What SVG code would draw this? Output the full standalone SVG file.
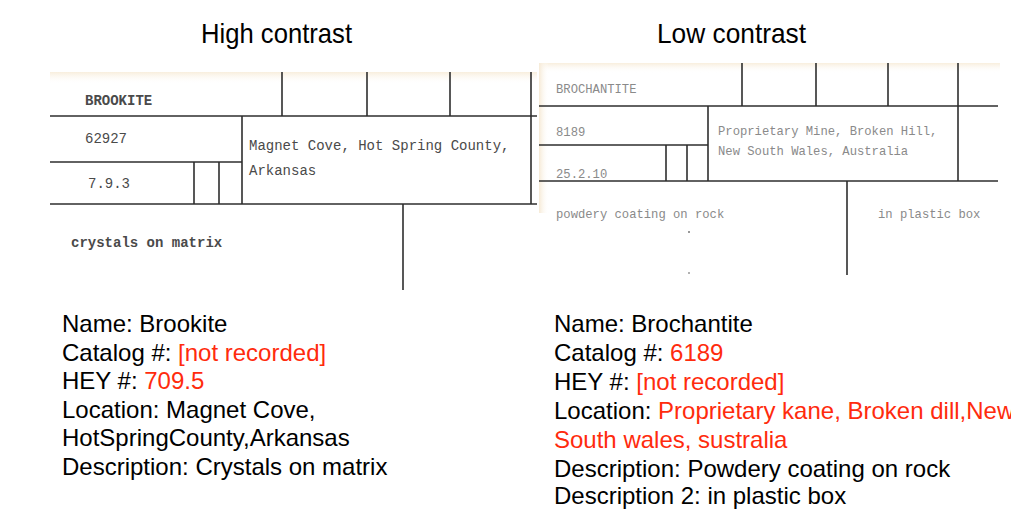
<svg xmlns="http://www.w3.org/2000/svg" width="1011" height="511" viewBox="0 0 1011 511">
  <style>
    .title { font-family: "Liberation Sans", Arial, sans-serif; font-size: 28px; fill: #000; }
    .rule { stroke: #2e2e2e; stroke-width: 1.6; fill: none; }
    .type1 { font-family: "Liberation Mono", "Courier New", monospace; font-size: 14px; fill: #4a4a4a; }
    .type2 { font-family: "Liberation Mono", "Courier New", monospace; font-size: 12.2px; fill: #8a8a8a; }
    .body { font-family: "Liberation Sans", Arial, sans-serif; font-size: 24px; fill: #000; }
    .red { fill: #ff2b0d; }
  </style>
  <defs>
    <linearGradient id="topTint" x1="0" y1="0" x2="0" y2="1">
      <stop offset="0" stop-color="#f8eedd"/>
      <stop offset="1" stop-color="#ffffff" stop-opacity="0"/>
    </linearGradient>
    <linearGradient id="leftTint" x1="0" y1="0" x2="1" y2="0">
      <stop offset="0" stop-color="#f6ead6"/>
      <stop offset="1" stop-color="#ffffff" stop-opacity="0"/>
    </linearGradient>
  </defs>

  <rect width="1011" height="511" fill="#ffffff"/>

  <!-- headings -->
  <g id="headings">
    <text class="title" x="201" y="43" textLength="151" lengthAdjust="spacingAndGlyphs">High contrast</text>
    <text class="title" x="657" y="43" textLength="149" lengthAdjust="spacingAndGlyphs">Low contrast</text>
  </g>

  <!-- catalog card: Brookite -->
  <g id="card-brookite">
    <rect x="50" y="72" width="487" height="218" fill="#ffffff"/>
    <rect x="50" y="72" width="487" height="12" fill="url(#topTint)"/>
    <g class="rule">
      <line x1="50" y1="116" x2="537" y2="116"/>
      <line x1="50" y1="162" x2="242" y2="162"/>
      <line x1="50" y1="204" x2="537" y2="204"/>
      <line x1="282" y1="72" x2="282" y2="116"/>
      <line x1="367" y1="72" x2="367" y2="116"/>
      <line x1="450" y1="72" x2="450" y2="116"/>
      <line x1="531" y1="72" x2="531" y2="204"/>
      <line x1="242" y1="116" x2="242" y2="204"/>
      <line x1="194" y1="162" x2="194" y2="204"/>
      <line x1="219" y1="162" x2="219" y2="204"/>
      <line x1="403" y1="204" x2="403" y2="290"/>
    </g>
    <text class="type1" x="85" y="105" font-weight="bold" font-size="13">BROOKITE</text>
    <text class="type1" x="85" y="143" fill="#333">62927</text>
    <text class="type1" x="88" y="188">7.9.3</text>
    <text class="type1" x="249" y="150">Magnet Cove, Hot Spring County,</text>
    <text class="type1" x="249" y="175">Arkansas</text>
    <text class="type1" x="71" y="247" font-weight="bold">crystals on matrix</text>
  </g>

  <!-- catalog card: Brochantite -->
  <g id="card-brochantite">
    <rect x="539" y="63" width="461" height="212" fill="#ffffff"/>
    <rect x="539" y="63" width="461" height="10" fill="url(#topTint)"/>
    <rect x="539" y="63" width="10" height="150" fill="url(#leftTint)"/>
    <g class="rule">
      <line x1="539" y1="106" x2="998" y2="106"/>
      <line x1="539" y1="145" x2="708" y2="145"/>
      <line x1="539" y1="181" x2="998" y2="181"/>
      <line x1="742" y1="63" x2="742" y2="106"/>
      <line x1="816" y1="63" x2="816" y2="106"/>
      <line x1="888" y1="63" x2="888" y2="106"/>
      <line x1="958" y1="63" x2="958" y2="181"/>
      <line x1="708" y1="106" x2="708" y2="181"/>
      <line x1="666" y1="145" x2="666" y2="181"/>
      <line x1="687" y1="145" x2="687" y2="181"/>
      <line x1="847" y1="181" x2="847" y2="275"/>
    </g>
    <text class="type2" x="556" y="93">BROCHANTITE</text>
    <text class="type2" x="556" y="136">8189</text>
    <text class="type2" x="556" y="178">25.2.10</text>
    <text class="type2" x="718" y="135">Proprietary Mine, Broken Hill,</text>
    <text class="type2" x="718" y="155">New South Wales, Australia</text>
    <text class="type2" x="556" y="218">powdery coating on rock</text>
    <text class="type2" x="878" y="218">in plastic box</text>
    <circle cx="689" cy="232" r="1" fill="#777"/>
    <circle cx="689" cy="273" r="1" fill="#999"/>
  </g>

  <!-- transcription: Brookite -->
  <g id="record-brookite" class="body">
    <text x="62" y="332">Name: Brookite</text>
    <text x="62" y="361">Catalog #: <tspan class="red">[not recorded]</tspan></text>
    <text x="62" y="389">HEY #: <tspan class="red">709.5</tspan></text>
    <text x="62" y="418">Location: Magnet Cove,</text>
    <text x="62" y="446">HotSpringCounty,Arkansas</text>
    <text x="62" y="475">Description: Crystals on matrix</text>
  </g>

  <!-- transcription: Brochantite -->
  <g id="record-brochantite" class="body">
    <text x="554" y="332">Name: Brochantite</text>
    <text x="554" y="361">Catalog #: <tspan class="red">6189</tspan></text>
    <text x="554" y="390">HEY #: <tspan class="red">[not recorded]</tspan></text>
    <text x="554" y="419">Location: <tspan class="red">Proprietary kane, Broken dill,New</tspan></text>
    <text x="554" y="448" class="red">South wales, sustralia</text>
    <text x="554" y="477">Description: Powdery coating on rock</text>
    <text x="554" y="504">Description 2: in plastic box</text>
  </g>
</svg>
